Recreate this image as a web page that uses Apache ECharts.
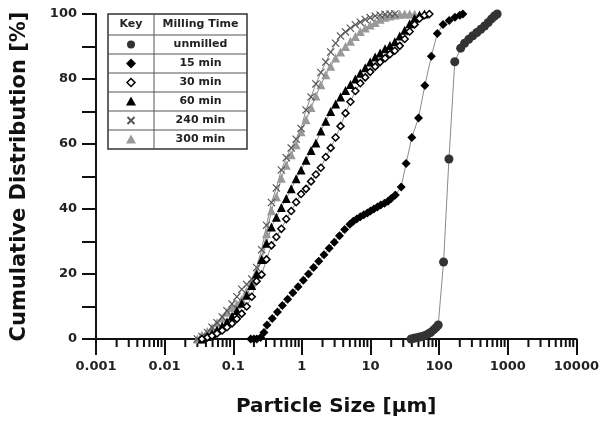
<!DOCTYPE html>
<html>
<head>
<meta charset="utf-8">
<script src="https://cdn.jsdelivr.net/npm/echarts@6/dist/echarts.min.js"></script>
<style>
  html, body { margin: 0; background: #fff; }
  #chart { width: 602px; height: 426px; }
</style>
</head>
<body>
<div id="chart"></div>
<script>
// particle size [um] vs cumulative distribution [%]
const legendLabels = ['unmilled', '15 min', '30 min', '60 min', '240 min', '300 min'];

const unmilled = [
  [39, 0], [43, 0.2], [47, 0.4], [52, 0.6], [57, 0.8], [62, 1.1], [68, 1.5], [75, 2], [83, 2.8], [90, 3.5],
  [97, 4.3], [116, 23.7], [139, 55.4], [169, 85.3], [206, 89.5], [235, 91], [270, 92.2], [310, 93.3],
  [355, 94.3], [405, 95.3], [460, 96.3], [520, 97.4], [580, 98.5], [640, 99.4], [700, 100]
];

const min15 = [
  [0.18, 0], [0.2, 0], [0.22, 0], [0.25, 0.5], [0.28, 2], [0.31, 4.3], [0.37, 6.3], [0.44, 8.3], [0.52, 10.3],
  [0.62, 12.2], [0.74, 14.2], [0.88, 16.1], [1.05, 18.1], [1.25, 20], [1.48, 22], [1.76, 23.9], [2.1, 25.9],
  [2.5, 27.9], [2.97, 29.8], [3.53, 31.8], [4.2, 33.7], [5.0, 35.3], [5.6, 36.2], [6.3, 36.9], [7.1, 37.6],
  [8, 38.2], [9, 38.8], [10, 39.4], [11.2, 40], [12.6, 40.6], [14.1, 41.2], [16, 41.8], [18, 42.4],
  [20, 43.2], [23, 44.3], [28, 46.8], [33, 54], [40, 62], [50, 68], [62, 78], [77, 87], [94, 94],
  [114, 96.8], [140, 98], [170, 99], [200, 99.6], [222, 100]
];

const min30 = [
  [0.035, 0], [0.042, 0.5], [0.049, 1], [0.058, 1.7], [0.069, 2.6], [0.081, 3.6], [0.096, 4.8], [0.113, 6.2],
  [0.133, 7.8], [0.157, 10], [0.186, 13], [0.219, 17.8], [0.259, 19.8], [0.305, 24.5], [0.36, 28.8],
  [0.425, 31.4], [0.502, 33.9], [0.592, 36.9], [0.699, 39.4], [0.825, 42.1], [0.973, 44.6], [1.15, 46.2],
  [1.36, 48.5], [1.6, 50.6], [1.89, 52.7], [2.23, 56], [2.63, 58.8], [3.1, 62], [3.66, 65.5], [4.32, 69.5],
  [5.1, 73], [6.02, 76.3], [7.1, 78.7], [8.38, 80.5], [9.9, 82.2], [11.7, 83.8], [13.8, 85.2], [16.3, 86.4],
  [19.2, 87.6], [22.6, 88.7], [26.7, 90.2], [31.5, 92.3], [37.2, 94.6], [43.9, 96.8], [51.8, 98.6],
  [61.1, 99.6], [72.1, 100]
];

const min60 = [
  [0.035, 0], [0.042, 0.8], [0.049, 1.7], [0.058, 2.8], [0.069, 4], [0.081, 5.3], [0.096, 7], [0.113, 8.8],
  [0.133, 11], [0.157, 13.5], [0.186, 16.5], [0.219, 20], [0.259, 24.5], [0.305, 29.5], [0.36, 34.5],
  [0.425, 37.5], [0.502, 40.5], [0.592, 43.2], [0.699, 46.2], [0.825, 49.3], [0.973, 52], [1.15, 55],
  [1.36, 58], [1.6, 60.3], [1.89, 64], [2.23, 67], [2.63, 70], [3.1, 72.3], [3.66, 74.5], [4.32, 76.5],
  [5.1, 78.3], [6.02, 80], [7.1, 81.8], [8.38, 83.5], [9.9, 85.2], [11.7, 86.8], [13.8, 88], [16.3, 89.3],
  [19.2, 90.3], [22.6, 91.5], [26.7, 93.2], [31.5, 95], [37.2, 97], [43.9, 98.7], [51.8, 99.7], [61.1, 100]
];

const min240 = [
  [0.03, 0], [0.035, 0.8], [0.042, 2], [0.049, 3.6], [0.058, 5], [0.069, 6.8], [0.081, 8.7], [0.096, 10.8],
  [0.113, 13], [0.133, 15.3], [0.157, 16.8], [0.186, 18.5], [0.219, 22], [0.259, 27.5], [0.305, 35],
  [0.36, 42], [0.425, 46.5], [0.502, 52], [0.592, 55.8], [0.699, 58.8], [0.825, 61.5], [0.973, 64.8],
  [1.15, 70.5], [1.36, 74.5], [1.6, 78.5], [1.89, 82], [2.23, 85.2], [2.63, 88.3], [3.1, 91], [3.66, 93.2],
  [4.32, 94.5], [5.1, 95.6], [6.02, 96.7], [7.1, 97.5], [8.38, 98.3], [9.9, 98.9], [11.7, 99.4],
  [13.8, 99.7], [16.3, 99.9], [19.2, 100], [22.6, 100]
];

const min300 = [
  [0.03, 0], [0.035, 1.2], [0.042, 2.3], [0.049, 3.5], [0.058, 5], [0.069, 6.5], [0.081, 8.2], [0.096, 9.7],
  [0.113, 10.7], [0.133, 12.2], [0.157, 14.8], [0.186, 17.5], [0.219, 20.5], [0.259, 25], [0.305, 32.5],
  [0.36, 39.5], [0.425, 43.8], [0.502, 49.5], [0.592, 53.5], [0.699, 56.7], [0.825, 59.8], [0.973, 63.8],
  [1.15, 67.5], [1.36, 71.2], [1.6, 74.8], [1.89, 78.2], [2.23, 81.3], [2.63, 83.9], [3.1, 86.5],
  [3.66, 88.3], [4.32, 90], [5.1, 91.6], [6.02, 93.1], [7.1, 94.6], [8.38, 95.7], [9.9, 96.6], [11.7, 97.4],
  [13.8, 98.4], [16.3, 99], [19.2, 99.4], [22.6, 99.7], [26.7, 99.9], [31.5, 100], [37.2, 100], [43.9, 100]
];

const font = 'DejaVu Sans';
const crossPath = 'path://M0,1L1,0L5,4L9,0L10,1L6,5L10,9L9,10L5,6L1,10L0,9L4,5Z';

const chart = echarts.init(document.getElementById('chart'));

const mkLine = (name, data, symbol, size, color, extra) => Object.assign({
  name: name,
  type: 'line',
  data: data,
  symbol: symbol,
  symbolSize: size,
  showAllSymbol: true,
  animation: false,
  lineStyle: { color: '#8a8a8a', width: 1 },
  itemStyle: { color: color }
}, extra || {});

// legend table (Key / Milling Time)
const tx = 108, ty = 14, tw = 139, colX = 154, headH = 21, rowH = 19;
const legendEls = [
  { type: 'rect', shape: { x: tx, y: ty, width: tw, height: headH + rowH * 6 }, style: { fill: '#fff', stroke: '#333', lineWidth: 1.5 } },
  { type: 'line', shape: { x1: colX, y1: ty, x2: colX, y2: ty + headH + rowH * 6 }, style: { stroke: '#555', lineWidth: 1 } },
  { type: 'text', x: (tx + colX) / 2, y: ty + headH / 2, style: { text: 'Key', font: 'bold 11px ' + font, fill: '#222', align: 'center', verticalAlign: 'middle' } },
  { type: 'text', x: (colX + tx + tw) / 2, y: ty + headH / 2, style: { text: 'Milling Time', font: 'bold 11px ' + font, fill: '#222', align: 'center', verticalAlign: 'middle' } }
];
for (let i = 0; i < 6; i++) {
  const y0 = ty + headH + rowH * i;
  legendEls.push({ type: 'line', shape: { x1: tx, y1: y0, x2: tx + tw, y2: y0 }, style: { stroke: '#555', lineWidth: 1 } });
  legendEls.push({ type: 'text', x: (colX + tx + tw) / 2, y: y0 + rowH / 2, style: { text: legendLabels[i], font: 'bold 11px ' + font, fill: '#222', align: 'center', verticalAlign: 'middle' } });
}
const kx = (tx + colX) / 2;
const ky = i => ty + headH + rowH * i + rowH / 2;
legendEls.push(
  { type: 'circle', shape: { cx: kx, cy: ky(0), r: 4 }, style: { fill: '#333' } },
  { type: 'polygon', shape: { points: [[kx, ky(1) - 5], [kx + 5, ky(1)], [kx, ky(1) + 5], [kx - 5, ky(1)]] }, style: { fill: '#000' } },
  { type: 'polygon', shape: { points: [[kx, ky(2) - 4], [kx + 4, ky(2)], [kx, ky(2) + 4], [kx - 4, ky(2)]] }, style: { fill: '#fff', stroke: '#000', lineWidth: 1.5 } },
  { type: 'polygon', shape: { points: [[kx, ky(3) - 5], [kx + 5, ky(3) + 4], [kx - 5, ky(3) + 4]] }, style: { fill: '#000' } },
  { type: 'line', shape: { x1: kx - 3.5, y1: ky(4) - 3.5, x2: kx + 3.5, y2: ky(4) + 3.5 }, style: { stroke: '#555', lineWidth: 2 } },
  { type: 'line', shape: { x1: kx + 3.5, y1: ky(4) - 3.5, x2: kx - 3.5, y2: ky(4) + 3.5 }, style: { stroke: '#555', lineWidth: 2 } },
  { type: 'polygon', shape: { points: [[kx, ky(5) - 5], [kx + 5, ky(5) + 4], [kx - 5, ky(5) + 4]] }, style: { fill: '#999' } }
);

const axisText = { color: '#222', fontFamily: font, fontWeight: 'bold', fontSize: 13 };

chart.setOption({
  animation: false,
  grid: { left: 96, right: 23, top: 14, bottom: 87 },
  xAxis: {
    type: 'log',
    logBase: 10,
    min: 0.001,
    max: 10000,
    name: 'Particle Size [\u03bcm]',
    nameLocation: 'middle',
    nameGap: 58,
    nameTextStyle: { color: '#111', fontFamily: font, fontWeight: 'bold', fontSize: 20 },
    axisLine: { lineStyle: { color: '#111', width: 2 } },
    axisTick: { length: 16, lineStyle: { color: '#111', width: 2 } },
    minorTick: { show: false },
    splitLine: { show: false },
    axisLabel: Object.assign({ margin: 21, formatter: v => String(v) }, axisText)
  },
  yAxis: {
    type: 'value',
    min: 0,
    max: 100,
    interval: 20,
    name: 'Cumulative Distribution [%]',
    nameLocation: 'middle',
    nameGap: 66,
    nameTextStyle: { color: '#111', fontFamily: font, fontWeight: 'bold', fontSize: 21 },
    axisLine: { show: true, lineStyle: { color: '#111', width: 2 } },
    axisTick: { show: true, length: 14, lineStyle: { color: '#111', width: 2 } },
    minorTick: { show: true, splitNumber: 2, length: 14, lineStyle: { color: '#111', width: 2 } },
    splitLine: { show: false },
    axisLabel: Object.assign({ margin: 19 }, axisText)
  },
  graphic: legendEls,
  series: [
    mkLine('unmilled', unmilled, 'circle', 9, '#333'),
    mkLine('15 min', min15, 'diamond', 9, '#000'),
    mkLine('300 min', min300, 'triangle', 9, '#999'),
    mkLine('240 min', min240, crossPath, 8, '#555'),
    mkLine('60 min', min60, 'triangle', 9, '#000'),
    mkLine('30 min', min30, 'diamond', 7, '#fff', { itemStyle: { color: '#fff', borderColor: '#000', borderWidth: 1.5 } })
  ]
});

// log-spaced minor ticks (2..9 per decade), placed with the axis scale
const minorEls = [];
const y0px = chart.convertToPixel({ yAxisIndex: 0 }, 0);
for (let k = -3; k < 4; k++) {
  for (let m = 2; m < 10; m++) {
    const px = chart.convertToPixel({ xAxisIndex: 0 }, m * Math.pow(10, k));
    minorEls.push({ type: 'line', shape: { x1: px, y1: y0px, x2: px, y2: y0px + 8 }, style: { stroke: '#111', lineWidth: 2 } });
  }
}
chart.setOption({ graphic: legendEls.concat(minorEls) });
</script>
</body>
</html>
